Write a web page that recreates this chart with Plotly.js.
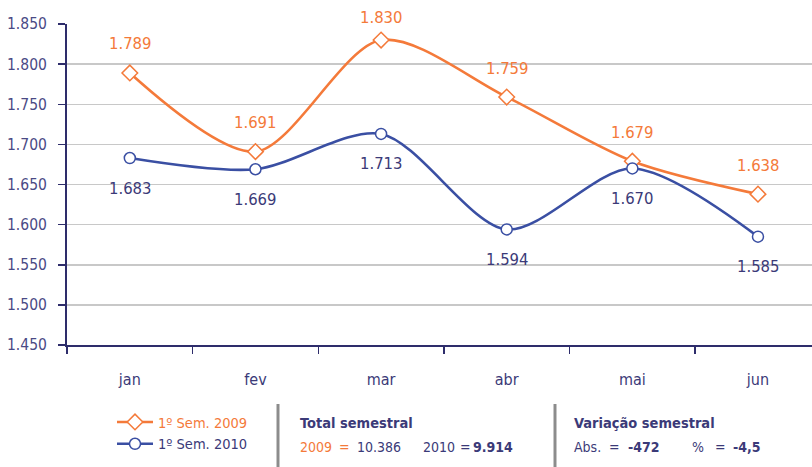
<!DOCTYPE html>
<html>
<head>
<meta charset="utf-8">
<script src="https://cdn.plot.ly/plotly-3.0.1.min.js"></script>
<style>
html,body{margin:0;padding:0;background:#fff;}
#chart{width:812px;height:467px;}
</style>
</head>
<body>
<div id="chart"></div>
<script>
const months = ['jan','fev','mar','abr','mai','jun'];
const sem2009 = [1789, 1691, 1830, 1759, 1679, 1638];
const sem2010 = [1683, 1669, 1713, 1594, 1670, 1585];
const seriesNames = ['1º Sem. 2009', '1º Sem. 2010'];
const yTicks = [1450, 1500, 1550, 1600, 1650, 1700, 1750, 1800, 1850];

const ORANGE = '#F47A3A';
const BLUE = '#3A4FA3';
const NAVY = '#3B3A78';
const FONT = '"DejaVu Sans Condensed", "Liberation Sans Narrow", sans-serif';

const W = 812, H = 467, L = 67, R = 812, T = 24, B = 345;
const Y0 = 1450, Y1 = 1850;
const xp = px => (px - L) / (R - L);
const yp = py => (B - py) / (B - T);

function thousands(n){
  const s = Math.abs(Math.round(n)).toString().replace(/\B(?=(\d{3})+(?!\d))/g, '.');
  return (n < 0 ? '-' : '') + s;
}

const tot2009 = sem2009.reduce((a,b)=>a+b,0);
const tot2010 = sem2010.reduce((a,b)=>a+b,0);
const varAbs = tot2010 - tot2009;
const varPct = (varAbs / tot2009 * 100).toFixed(1).replace('.', ',');

const traces = [
  {
    x: months, y: sem2009, type: 'scatter', mode: 'lines+markers',
    name: '<span style="color:' + ORANGE + '">' + seriesNames[0] + '</span>',
    line: {color: ORANGE, width: 2.6, shape: 'spline', smoothing: 0.85},
    marker: {symbol: 'diamond', size: 12, color: '#fff', line: {color: ORANGE, width: 1.5}},
    hoverinfo: 'skip'
  },
  {
    x: months, y: sem2010, type: 'scatter', mode: 'lines+markers',
    name: '<span style="color:' + NAVY + '">' + seriesNames[1] + '</span>',
    line: {color: BLUE, width: 2.6, shape: 'spline', smoothing: 0.85},
    marker: {symbol: 'circle', size: 11, color: '#fff', line: {color: BLUE, width: 1.5}},
    hoverinfo: 'skip'
  }
];

const annotations = [];
months.forEach((m, i) => {
  // keep the label inside the canvas: point's pixel distance from the top edge
  const pyPoint = B - (sem2009[i] - Y0) / (Y1 - Y0) * (B - T);
  const up = Math.min(29, pyPoint - 18);
  annotations.push({x: m, y: sem2009[i], xref: 'x', yref: 'y', text: thousands(sem2009[i]),
    showarrow: false, yshift: up, font: {family: FONT, size: 16.5, color: ORANGE}});
  annotations.push({x: m, y: sem2010[i], xref: 'x', yref: 'y', text: thousands(sem2010[i]),
    showarrow: false, yshift: -30, font: {family: FONT, size: 16.5, color: NAVY}});
});

function txt(px, py, text, color, bold, size){
  annotations.push({xref: 'paper', yref: 'paper', x: xp(px), y: yp(py), xanchor: 'left', yanchor: 'middle',
    text: bold ? '<b>' + text + '</b>' : text, showarrow: false,
    font: {family: FONT, size: size || 14, color: color}});
}
txt(298, 423, 'Total semestral', NAVY, true, 14.5);
txt(298, 447, '2009', ORANGE, false, 14);
txt(337, 447, '=', ORANGE, false, 14);
txt(355, 447, thousands(tot2009), NAVY, false, 14);
txt(421, 447, '2010', NAVY, false, 14);
txt(458, 447, '=', NAVY, false, 14);
txt(471, 447, thousands(tot2010), NAVY, true, 14);
txt(572, 423, 'Variação semestral', NAVY, true, 14.5);
txt(572, 447, 'Abs.', NAVY, false, 14);
txt(607, 447, '=', NAVY, false, 14);
txt(626, 447, thousands(varAbs), NAVY, true, 14);
txt(690, 447, '%', NAVY, false, 14);
txt(713, 447, '=', NAVY, false, 14);
txt(731, 447, varPct, NAVY, true, 14);

const shapes = [278, 555].map(px => ({
  type: 'line', xref: 'paper', yref: 'paper', x0: xp(px), x1: xp(px), y0: yp(404), y1: yp(470),
  line: {color: '#8c8c8c', width: 3}
}));

const layout = {
  width: W, height: H,
  margin: {l: L, r: W - R, t: T, b: H - B, pad: 0},
  paper_bgcolor: '#fff', plot_bgcolor: '#fff',
  separators: ',.',
  font: {family: FONT, color: NAVY},
  showlegend: true,
  legend: {x: xp(112), y: yp(406), xanchor: 'left', yanchor: 'top', itemwidth: 36,
    font: {family: FONT, size: 14.5, color: NAVY}, bgcolor: 'rgba(0,0,0,0)', tracegroupgap: 0},
  xaxis: {
    type: 'category', range: [-0.5, 5.43], showgrid: false,
    showline: true, linecolor: '#2E2D6B', linewidth: 2,
    ticks: 'outside', ticklen: 7, tickcolor: '#2E2D6B', tickwidth: 1.5,
    tickson: 'boundaries', ticklabelstandoff: 19,
    tickfont: {family: FONT, size: 16, color: NAVY}, zeroline: false, fixedrange: true
  },
  yaxis: {
    range: [Y0, Y1], tickvals: yTicks, tickformat: ',d',
    showgrid: true, gridcolor: '#c8c8c8', gridwidth: 1.5,
    showline: true, linecolor: '#2E2D6B', linewidth: 2,
    ticks: 'outside', ticklen: 7, tickcolor: '#2E2D6B', tickwidth: 1.5,
    ticklabelstandoff: 8,
    tickfont: {family: FONT, size: 15.5, color: '#4A4A85'}, zeroline: false, fixedrange: true
  },
  annotations: annotations,
  shapes: shapes
};

Plotly.newPlot('chart', traces, layout, {displayModeBar: false, staticPlot: true});
</script>
</body>
</html>
